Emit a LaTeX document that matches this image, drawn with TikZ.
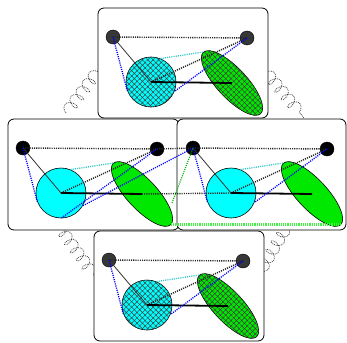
\documentclass[tikz,border=0pt]{standalone}
\usetikzlibrary{shapes.geometric,patterns.meta,decorations.pathmorphing}
\definecolor{cyanF}{RGB}{0,255,255}
\definecolor{greenF}{RGB}{0,232,0}
\definecolor{massgray}{RGB}{55,55,55}
\definecolor{lgreen}{RGB}{60,245,60}
\definecolor{cyline}{RGB}{50,200,200}
\tikzset{
  panelbox/.style={draw=black, line width=0.8pt, fill=white, rounded corners=6pt},
  mass/.style={circle, draw=black, fill=#1, minimum size=14pt, inner sep=0pt, line width=0.4pt},
  ball/.style={circle, draw=black, fill=cyanF, minimum size=50pt, inner sep=0pt, line width=0.6pt},
  blob/.style={ellipse, draw=black, fill=greenF, minimum width=84pt, minimum height=30pt, inner sep=0pt, line width=0.6pt, rotate=-47},
  hatched/.style={postaction={pattern={Hatch[angle=45,distance=3.8pt,line width=0.5pt]}, pattern color=black!75}},
  blkline/.style={black!85, line width=1.4pt, dash pattern=on 1.1pt off 1.1pt},
  thinline/.style={black!80, line width=0.8pt},
  thickline/.style={black, line width=1.8pt},
  blueline/.style={blue, line width=1.3pt, dash pattern=on 1.1pt off 1.1pt},
  cyanline/.style={cyline, line width=1.3pt, dash pattern=on 1.1pt off 1.1pt},
  greenline/.style={green!70!black, line width=1.1pt, dash pattern=on 1.1pt off 1.1pt},
  greenthick/.style={lgreen, line width=3pt, dash pattern=on 1.2pt off 1pt},
  springline/.style={black!75, line width=0.7pt, dash pattern=on 0.9pt off 0.9pt,
    decorate, decoration={coil, aspect=0.6, amplitude=6pt, segment length=10pt}}
}
% #1 prefix, #2 x, #3 y, #4 mass colour, #5 extra style for ball/blob
\newcommand\panelshapes[5]{%
  \begin{scope}[shift={(#2,#3)}]
    \node[mass=#4] (#11) at (15,29) {};
    \node[mass=#4] (#12) at (149,30) {};
    \node[ball,#5] (#1c) at (53,74) {};
    \node[blob,#5] (#1g) at (134,75) {};
  \end{scope}}
% standard connectors inside a panel
\newcommand\panellines[1]{%
  \draw[blkline] (#11.center) -- (#12.center);
  \draw[thinline] (#11.center) -- (#1c.center);
  \draw[blkline] (#1c.center) -- (#12.center);
  \draw[thickline] (#1c.center) -- (#1g.center);
  \draw[blueline] (#11.center) -- (#1c.200);
  \draw[cyanline] (#1c.68) -- (#1g.west);}
\begin{document}
\begin{tikzpicture}[x=1pt,y=-1pt]
\useasboundingbox (0,0) rectangle (347,342);
% springs (behind the panels)
\coordinate (s1a) at (66,113); \coordinate (s1b) at (101,67);
\coordinate (s2a) at (266,72); \coordinate (s2b) at (304,118);
\coordinate (s3a) at (57,224); \coordinate (s3b) at (96,278);
\coordinate (s4a) at (287,226); \coordinate (s4b) at (258,275);
\draw[springline] (s1a) -- (s1b);
\draw[springline] (s2a) -- (s2b);
\draw[springline] (s3a) -- (s3b);
\draw[springline] (s4a) -- (s4b);
% panels
\draw[panelbox] (98,8) rectangle (268,118);
\draw[panelbox] (8,119) rectangle (179,230);
\draw[panelbox] (177,119) rectangle (346,230);
\draw[panelbox] (94,231) rectangle (264,341);
% shapes
\panelshapes{t}{98}{8}{massgray}{hatched}
\panelshapes{l}{8}{119}{black}{}
\panelshapes{r}{178}{119}{black}{}
\panelshapes{b}{94}{231}{massgray}{hatched}
% top panel
\panellines{t}
\draw[blueline] (t2.center) -- (tc.-22);
% bottom panel
\panellines{b}
\draw[blueline] (b2.center) -- (bc.-22);
% right panel
\panellines{r}
\draw[blueline] (r2.center) -- (rc.-22);
% left panel
\panellines{l}
\draw[blueline] (l2.center) -- (lc.south);
% links between the middle panels
\coordinate (lgR) at (172,203);
\draw[blkline] (l2.center) -- (r1.center);
\draw[blkline] (lg.center) -- (rc.center);
\draw[blueline] (lc.-30) -- (r1.center);
\draw[greenline] (lgR) -- (r1.center);
\draw[greenthick] (lg.east) -- (rg.east);
\end{tikzpicture}
\end{document}
